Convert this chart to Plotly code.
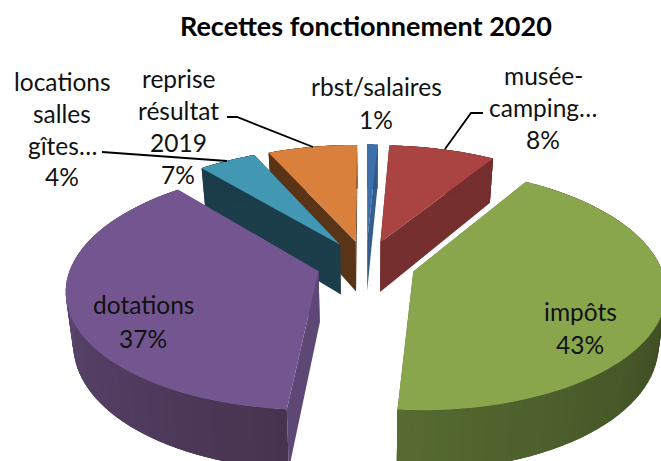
import math
import plotly.graph_objects as go

# Data
categories = ["rbst/salaires", "musée-camping…", "impôts", "dotations", "locations salles gîtes…", "reprise résultat 2019"]
values = [0.8, 8.1, 42.4, 37.5, 4.4, 6.8]
percent_labels = ["1%", "8%", "43%", "37%", "4%", "7%"]
title_text = "Recettes fonctionnement 2020"

# Styles
top_colors = ["#3d6fa8", "#a94442", "#8aa64d", "#735690", "#4298b2", "#d9813c"]
side_colors = ["#345d8c", "#752f2e", "#556931", "#5d4775", "#1c3d4a", "#5a3416"]
outer_from = ["#2c4d75", "#752f2e", "#2a3419", "#46344f", "#1c3d4a", "#5a3416"]
outer_to = ["#345d8c", "#752f2e", "#566a31", "#6a5084", "#1c3d4a", "#5a3416"]
draw_order = [0, 5, 1, 4, 3, 2]

# Projection of the tilted pie
CX, CY = 366.0, 264.0
BX, AY = 247.0, 116.6
PERSP, DEPTH, CONTRACT, EXPLODE = 0.143, 51.0, 0.025, 0.2
N = 60


def proj(wx, back, z):
    s = 1.0 / (1.0 + PERSP * back)
    return CX + BX * wx * s * (1 - CONTRACT * z), CY - AY * back * s + DEPTH * z * s


def lerp_hex(c1, c2, t):
    a = [int(c1[i:i + 2], 16) for i in (1, 3, 5)]
    b = [int(c2[i:i + 2], 16) for i in (1, 3, 5)]
    return "#" + "".join(f"{round(p + (q - p) * t):02x}" for p, q in zip(a, b))


def poly(pts, color):
    xs = [p[0] for p in pts] + [pts[0][0]]
    ys = [p[1] for p in pts] + [pts[0][1]]
    return go.Scatter(x=xs, y=ys, mode="none", fill="toself", fillcolor=color,
                      hoverinfo="skip", showlegend=False)


total = sum(values)
bounds = []
acc = 0.0
for v in values:
    bounds.append((acc / total * 2 * math.pi, (acc + v) / total * 2 * math.pi))
    acc += v

fig = go.Figure()
for i in draw_order:
    t0, t1 = bounds[i]
    mid = (t0 + t1) / 2
    ox, oy = EXPLODE * math.sin(mid), EXPLODE * math.cos(mid)
    angles = [t0 + (t1 - t0) * j / N for j in range(N + 1)]
    rim = [(ox + math.sin(a), oy + math.cos(a)) for a in angles]
    # radial walls
    for edge in (rim[0], rim[-1]):
        fig.add_trace(poly([proj(ox, oy, 0), proj(*edge, 0), proj(*edge, 1), proj(ox, oy, 1)], side_colors[i]))
    # outer wall in overlapping strips, so no seams show between them
    for j in range(N):
        c = lerp_hex(outer_from[i], outer_to[i], (j + 0.5) / N)
        end = min(j + 3, N)
        fig.add_trace(poly([proj(*rim[j], 0), proj(*rim[end], 0), proj(*rim[end], 1), proj(*rim[j], 1)], c))
    # top face
    fig.add_trace(poly([proj(ox, oy, 0)] + [proj(*p, 0) for p in rim], top_colors[i]))

# Leader lines
leaders = [
    ([102, 116, 227], [152, 153, 161]),
    ([227, 237, 313], [117, 117, 147]),
    ([483, 471, 445], [113, 113, 149]),
]
for lx, ly in leaders:
    fig.add_trace(go.Scatter(x=lx, y=ly, mode="lines", line=dict(color="black", width=1.8),
                             hoverinfo="skip", showlegend=False))

# Text lines
label_lines = [
    ("locations", 62, 81), ("salles", 62, 113), ("gîtes…", 62, 145), (percent_labels[4], 62, 176),
    ("reprise", 178, 78), ("résultat", 178, 110), ("2019", 178, 142), (percent_labels[5], 178, 174),
    ("rbst/salaires", 376, 86), (percent_labels[0], 376, 119),
    ("musée-", 543, 75), ("camping…", 543, 107), (percent_labels[1], 543, 139),
    ("dotations", 143, 304), (percent_labels[3], 143, 338),
    ("impôts", 580, 311), (percent_labels[2], 580, 344),
]
annotations = [dict(x=x, y=y, text=t, showarrow=False, xref="x", yref="y",
                    font=dict(family="Lato", size=24.5, color="#111111")) for t, x, y in label_lines]
annotations.append(dict(x=366, y=25, text=f"<b>{title_text}</b>", showarrow=False, xref="x", yref="y",
                        font=dict(family="Lato", size=27, color="black")))

fig.update_layout(
    width=661, height=461, margin=dict(l=0, r=0, t=0, b=0),
    paper_bgcolor="white", plot_bgcolor="white", showlegend=False,
    xaxis=dict(range=[0, 661], visible=False, fixedrange=True),
    yaxis=dict(range=[461, 0], visible=False, fixedrange=True),
    annotations=annotations,
)
fig.write_html("out.html", post_script="document.body.style.margin='0';", config={"displayModeBar": False})
